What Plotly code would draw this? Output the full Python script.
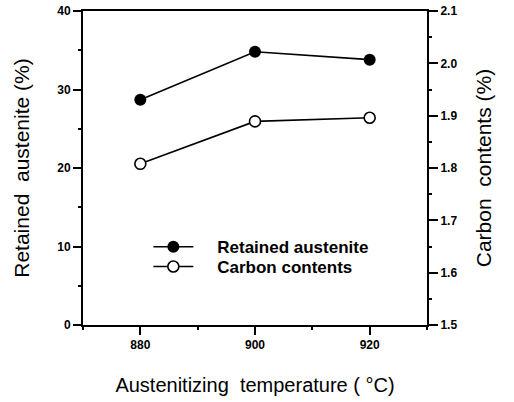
import plotly.graph_objects as go

temperature = [880, 900, 920]
retained_austenite = [28.7, 34.8, 33.8]
carbon_contents = [1.808, 1.889, 1.896]

x_ticks = [880, 900, 920]
y1_ticks = [0, 10, 20, 30, 40]
y2_ticks = [1.5, 1.6, 1.7, 1.8, 1.9, 2.0, 2.1]
y2_labels = ["1.5", "1.6", "1.7", "1.8", "1.9", "2.0", "2.1"]

NB = "\u00a0\u00a0\u00a0\u00a0"

fig = go.Figure()
fig.add_trace(go.Scatter(
    x=temperature, y=retained_austenite, name=NB + "Retained austenite",
    mode="lines+markers", legend="legend",
    line=dict(color="black", width=1.6),
    marker=dict(symbol="circle", size=12, color="black"),
))
fig.add_trace(go.Scatter(
    x=temperature, y=carbon_contents, name=NB + "Carbon contents",
    mode="lines+markers", yaxis="y2", legend="legend2",
    line=dict(color="black", width=1.6),
    marker=dict(symbol="circle", size=11, color="white",
                line=dict(color="black", width=1.6)),
))

tickfont = dict(family="Liberation Sans, Arial", size=12, color="black", weight="bold")
titlefont = dict(family="Liberation Sans, Arial", size=21, color="black")
legfont = dict(family="Liberation Sans, Arial", size=17, color="black", weight="bold")

fig.update_layout(
    width=514, height=402,
    margin=dict(l=83, r=87, t=11, b=77),
    paper_bgcolor="white", plot_bgcolor="white",
    showlegend=True,
    legend=dict(x=0.19, y=0.248, xanchor="left", yanchor="middle",
                bgcolor="rgba(0,0,0,0)", font=legfont, itemwidth=40),
    legend2=dict(x=0.19, y=0.185, xanchor="left", yanchor="middle",
                 bgcolor="rgba(0,0,0,0)", font=legfont, itemwidth=40),
    xaxis=dict(
        range=[870, 930], tickvals=x_ticks, ticktext=[str(v) for v in x_ticks],
        ticks="outside", ticklen=8, tickwidth=1.5, tickcolor="black",
        minor=dict(dtick=10, tick0=870, ticks="outside", ticklen=3, tickwidth=1.5, tickcolor="black"),
        showline=True, linecolor="black", linewidth=2, mirror=True,
        showgrid=False, zeroline=False, tickfont=tickfont, automargin=False,
        title=dict(text="Austenitizing  temperature ( °C)",
                   font=dict(family="Liberation Sans, Arial", size=20, color="black"), standoff=27),
    ),
    yaxis=dict(
        range=[0, 40], tickvals=y1_ticks,
        ticks="outside", ticklen=8, tickwidth=1.5, tickcolor="black",
        minor=dict(dtick=5, ticks="outside", ticklen=3, tickwidth=1.5, tickcolor="black"),
        showline=True, linecolor="black", linewidth=2,
        showgrid=False, zeroline=False, tickfont=tickfont, automargin=False,
        title=dict(text="Retained  austenite (%)", font=titlefont, standoff=22),
    ),
    yaxis2=dict(
        range=[1.5, 2.1], tickvals=y2_ticks, ticktext=y2_labels,
        overlaying="y", side="right",
        ticks="outside", ticklen=9, tickwidth=1.5, tickcolor="black",
        minor=dict(dtick=0.05, tick0=1.5, ticks="outside", ticklen=3, tickwidth=1.5, tickcolor="black"),
        showline=True, linecolor="black", linewidth=2,
        showgrid=False, zeroline=False, tickfont=tickfont, automargin=False,
        title=dict(text="Carbon  contents (%)", font=titlefont, standoff=20),
    ),
)

fig.write_html("out.html")
